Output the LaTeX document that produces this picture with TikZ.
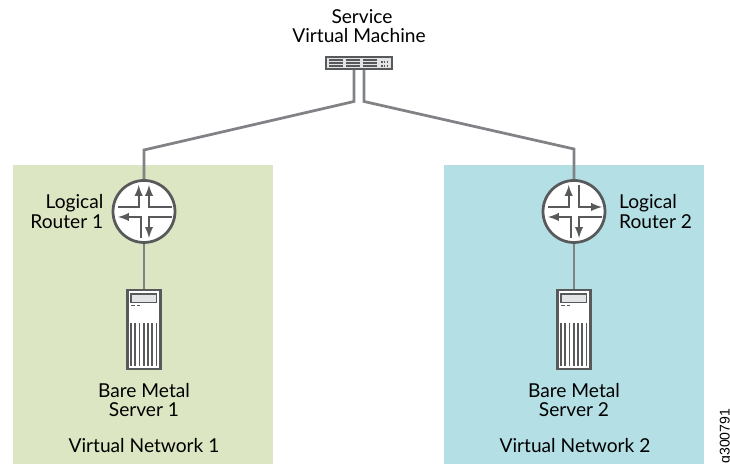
\documentclass[tikz,border=0pt]{standalone}
\usepackage{fontspec}
\setmainfont{Lato}[NFSSFamily=lato]
\newfontfamily\tagfont{Liberation Sans}
\definecolor{netgreen}{HTML}{DCE6C2}
\definecolor{netblue}{HTML}{B3DFE5}
\definecolor{linkgray}{HTML}{808285}
\definecolor{edgegray}{HTML}{58595B}
\definecolor{facegray}{HTML}{E3E4E5}
\tikzset{
    panel/.style = {inner sep = 0, minimum width = 5.2cm, minimum height = 5.98cm},
    link/.style = {draw = linkgray, line width = .055cm},
    routernode/.style = {circle, draw = edgegray, fill = white, line width = .055cm, minimum size = 1.24cm},
    turn/.style = {draw = edgegray, line width = .04cm},
    servernode/.style = {draw = edgegray, fill = white, line width = .045cm, minimum width = .66cm, minimum height = 1.58cm, inner sep = 0},
    detail/.style = {draw = edgegray, line width = .022cm},
    label/.style = {font = \fontsize{10.9}{11.2}\selectfont, align = center}
}
\begin{document}
\begin{tikzpicture}

    \useasboundingbox (0,0) rectangle (14.6,9.28);

    \node[panel, fill = netgreen] (net1) at (2.86,2.99) {};
    \node[panel, fill = netblue] (net2) at (11.48,2.99) {};

    \node[draw = edgegray, fill = facegray, line width = .04cm, minimum width = 1.33cm, minimum height = .25cm, inner sep = 0] (svm) at (7.18,8.02) {};

    \node[routernode] (router1) at (2.88,5.05) {};
    \node[routernode] (router2) at (11.48,5.05) {};

    \node[servernode] (server1) at (2.88,2.69) {};
    \node[servernode] (server2) at (11.48,2.69) {};

    \coordinate (svm1) at (7.08,7.88);
    \coordinate (svm2) at (7.28,7.88);
    \coordinate (bend1) at (7.08,7.25);
    \coordinate (bend2) at (7.28,7.25);
    \coordinate (drop1) at (2.88,6.28);
    \coordinate (drop2) at (11.48,6.30);

    \draw[link] (svm1) -- (bend1) -- (drop1) -- (router1);
    \draw[link] (svm2) -- (bend2) -- (drop2) -- (router2);
    \draw[link] (router1) -- (server1);
    \draw[link] (router2) -- (server2);

    % switch face
    \begin{scope}[shift = {(7.18,8.02)}]
        \draw[detail] (-.6,.06) -- (-.32,.06);
        \draw[detail] (-.6,0) -- (-.32,0);
        \draw[detail] (-.6,-.06) -- (-.32,-.06);
        \draw[detail] (-.26,.06) -- (.02,.06);
        \draw[detail] (-.26,0) -- (.02,0);
        \draw[detail] (-.26,-.06) -- (.02,-.06);
        \draw[detail] (.08,.06) -- (.36,.06);
        \draw[detail] (.08,0) -- (.36,0);
        \draw[detail] (.08,-.06) -- (.36,-.06);
        \draw[detail, line width = .03cm, dash pattern = on .03cm off .025cm] (.44,.02) -- (.6,.02);
        \draw[detail, line width = .03cm, dash pattern = on .03cm off .025cm] (.44,-.06) -- (.6,-.06);
    \end{scope}

    % router 1
    \begin{scope}[shift = {(2.88,5.06)}]
        \draw[turn, -latex] (-.52,.08) -- (-.106,.08) -- (-.106,.52);
        \draw[turn, -latex] (.56,.08) -- (.10,.08) -- (.10,.52);
        \draw[turn, -latex] (-.066,-.54) -- (-.066,-.12) -- (-.52,-.12);
        \draw[turn, -latex] (.56,-.12) -- (.10,-.12) -- (.10,-.54);
    \end{scope}

    % router 2
    \begin{scope}[shift = {(11.48,5.06)}]
        \draw[turn, -latex] (-.52,.08) -- (-.106,.08) -- (-.106,.52);
        \draw[turn, -latex] (.10,.52) -- (.10,.08) -- (.56,.08);
        \draw[turn, -latex] (-.066,-.54) -- (-.066,-.12) -- (-.52,-.12);
        \draw[turn, -latex] (.56,-.12) -- (.10,-.12) -- (.10,-.54);
    \end{scope}

    % server 1
    \begin{scope}[shift = {(2.88,2.69)}]
        \draw[detail, fill = facegray] (-.26,.71) rectangle (.25,.54);
        \draw[detail] (-.26,.484) -- (-.18,.484);
        \draw[detail] (-.14,.484) -- (-.08,.484);
        \draw[detail] (-.26,.13) -- (-.26,-.73);
        \draw[detail] (-.18,.13) -- (-.18,-.73);
        \draw[detail] (-.09,.13) -- (-.09,-.73);
        \draw[detail] (0,.13) -- (0,-.73);
        \draw[detail] (.08,.13) -- (.08,-.73);
        \draw[detail] (.16,.13) -- (.16,-.73);
        \draw[detail] (.25,.13) -- (.25,-.73);
    \end{scope}

    % server 2
    \begin{scope}[shift = {(11.48,2.69)}]
        \draw[detail, fill = facegray] (-.26,.71) rectangle (.25,.54);
        \draw[detail] (-.26,.484) -- (-.18,.484);
        \draw[detail] (-.14,.484) -- (-.08,.484);
        \draw[detail] (-.26,.13) -- (-.26,-.73);
        \draw[detail] (-.18,.13) -- (-.18,-.73);
        \draw[detail] (-.09,.13) -- (-.09,-.73);
        \draw[detail] (0,.13) -- (0,-.73);
        \draw[detail] (.08,.13) -- (.08,-.73);
        \draw[detail] (.16,.13) -- (.16,-.73);
        \draw[detail] (.25,.13) -- (.25,-.73);
    \end{scope}

    \node[label] (svmlabel) at (7.18,8.76) {\hspace*{.12cm}Service\\Virtual Machine};
    \node[label, align = right, anchor = east] (routerlabel1) at (2.19,5.05) {Logical\\Router 1};
    \node[label, align = left, anchor = west] (routerlabel2) at (12.26,5.05) {Logical\\Router 2};
    \node[label] (serverlabel1) at (2.88,1.28) {Bare Metal\\Server 1};
    \node[label] (serverlabel2) at (11.48,1.28) {Bare Metal\\Server 2};
    \node[label] (netlabel1) at (2.88,.37) {Virtual Network 1};
    \node[label] (netlabel2) at (11.5,.37) {Virtual Network 2};

    \node[rotate = 90, anchor = base east, inner sep = 0, font = \tagfont\fontsize{8}{8}\selectfont] (figtag) at (14.59,1.11) {g300791};

\end{tikzpicture}
\end{document}
